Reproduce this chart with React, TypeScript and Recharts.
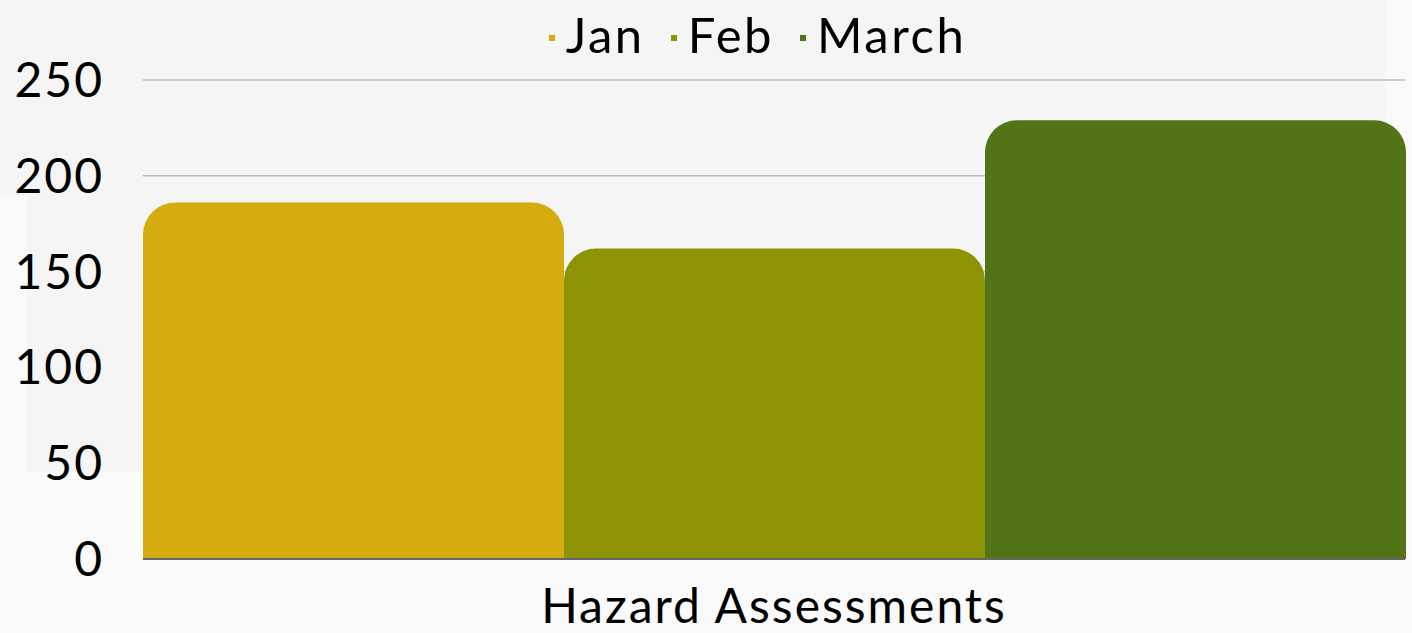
import { BarChart, Bar, XAxis, YAxis, CartesianGrid, Legend } from 'recharts';

const categories = ['Hazard Assessments'];
const seriesNames = ['Jan', 'Feb', 'March'];
const janValues = [186];
const febValues = [162];
const marchValues = [229];
const yTicks = [0, 50, 100, 150, 200, 250];

const COLORS: Record<string, string> = {
  Jan: '#d4ac0d',
  Feb: '#8e9306',
  March: '#527417',
};

const FONT = 'Lato, "Open Sans", sans-serif';

const data = categories.map((name, i) => ({
  name,
  Jan: janValues[i],
  Feb: febValues[i],
  March: marchValues[i],
}));

// small square markers like the original legend
function SquareLegend() {
  return (
    <div
      style={{
        display: 'flex',
        justifyContent: 'center',
        alignItems: 'center',
        fontFamily: FONT,
        fontSize: 49,
        letterSpacing: 2.5,
        color: '#000',
        gap: 26,
        lineHeight: '60px',
        paddingLeft: 110,
      }}
    >
      {seriesNames.map((s) => (
        <div key={s} style={{ display: 'flex', alignItems: 'center' }}>
          <span
            style={{
              display: 'inline-block',
              width: 6,
              height: 6,
              background: COLORS[s],
              marginRight: 11,
              marginTop: 8,
            }}
          />
          <span>{s}</span>
        </div>
      ))}
    </div>
  );
}

export default function App() {
  return (
    <div style={{ position: 'absolute', left: 0, top: 0, width: 1412, height: 633, background: '#fafafa', overflow: 'hidden' }}>
      <div style={{ position: 'absolute', left: 27, top: 0, width: 1359, height: 472, background: '#f5f5f5' }} />
      <div style={{ position: 'absolute', left: 0, top: 0, width: 27, height: 195, background: '#f5f5f5' }} />
      <div style={{ position: 'absolute', left: 0, top: 0 }}>
        <BarChart
          width={1412}
          height={633}
          data={data}
          margin={{ top: 20, right: 7, left: 0, bottom: 44 }}
          barCategoryGap={0}
          barGap={0}
        >
          <CartesianGrid vertical={false} stroke="#bbbbbb" strokeWidth={1.5} />
          <XAxis
            dataKey="name"
            height={30}
            axisLine={{ stroke: '#666666', strokeWidth: 2 }}
            tickLine={false}
            tickSize={0}
            tickMargin={30}
            tick={{ fill: '#000', fontSize: 48, fontFamily: FONT, letterSpacing: 2 }}
          />
          <YAxis
            width={143}
            domain={[0, 250]}
            ticks={yTicks}
            axisLine={false}
            tickLine={false}
            tickSize={0}
            tickMargin={39}
            tick={{ fill: '#000', fontSize: 48, fontFamily: FONT, letterSpacing: 2 }}
          />
          <Legend verticalAlign="top" content={<SquareLegend />} wrapperStyle={{ top: 4 }} />
          {seriesNames.map((s) => (
            <Bar key={s} dataKey={s} fill={COLORS[s]} radius={[32, 32, 0, 0]} isAnimationActive={false} />
          ))}
        </BarChart>
      </div>
    </div>
  );
}
